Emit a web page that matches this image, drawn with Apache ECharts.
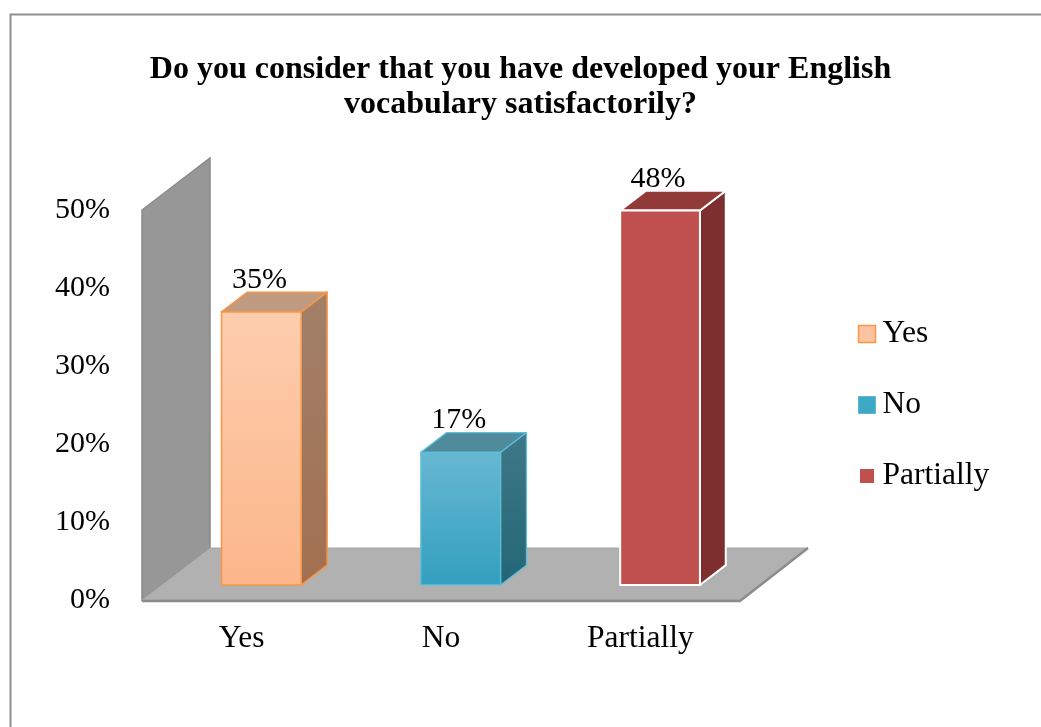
<!DOCTYPE html>
<html>
<head>
<meta charset="utf-8">
<script src="https://cdn.jsdelivr.net/npm/echarts@6/dist/echarts.min.js"></script>
<style>html,body{margin:0;padding:0;background:#fff}#c{width:1041px;height:727px}</style>
</head>
<body>
<div id="c"></div>
<script>
// ---- data ----
const categories = ['Yes', 'No', 'Partially'];
const values = [35, 17, 48];
const yMin = 0, yMax = 50, yInterval = 10;
const titleText = 'Do you consider that you have developed your English\nvocabulary satisfactorily?';

// ---- style ----
const FONT = '"Liberation Serif", "Times New Roman", serif';
const DX = 68, DY = -52;          // 3D depth vector of the floor
const F1 = 0.29, F2 = 0.67;       // bar front/back depth fractions
const barStyles = [
  { front: ['#FDCDAE', '#FBB68A'], top: '#C09A81', side: ['#A2806A', '#A27050'], edge: '#F79646', edgeW: 1.5,
    legend: { color: '#FBC39F', borderColor: '#F79646', borderWidth: 1.5 } },
  { front: ['#67B7D2', '#33A0BF'], top: '#508B9C', side: ['#3F7888', '#236677'], edge: '#5BC0DA', edgeW: 1.2,
    legend: { color: '#3EA8C6', borderColor: '#5BB8D2', borderWidth: 1 } },
  { front: ['#C0504D', '#C0504D'], top: '#923A38', side: ['#7C2F2E', '#7C2F2E'], edge: '#FFFFFF', edgeW: 2,
    legend: { color: '#C0504D', borderColor: '#FFFFFF', borderWidth: 3 } }
];

const chart = echarts.init(document.getElementById('c'), null, { renderer: 'canvas' });

function renderFrame(params, api) {
  const band = api.size([1, 0])[0];
  const p0 = api.coord([0, yMin]);
  const p1 = api.coord([0, yMax]);
  const xl = p0[0] - band / 2;
  const xr = xl + band * categories.length;
  const yb = p0[1], yt = p1[1];
  return {
    type: 'group',
    children: [
      { type: 'polygon', shape: { points: [[xl, yt], [xl + DX, yt + DY], [xl + DX, yb + DY], [xl, yb]] },
        style: { fill: '#979797', stroke: '#8A8A8A', lineWidth: 1.5 } },
      { type: 'polygon', shape: { points: [[xl, yb], [xl + DX, yb + DY], [xr + DX, yb + DY], [xr, yb]] },
        style: { fill: '#B1B1B1', stroke: '#A6A6A6', lineWidth: 1 } },
      { type: 'polyline', shape: { points: [[xl, yb + 1], [xr, yb + 1], [xr + DX, yb + DY]] },
        style: { fill: null, stroke: '#8C8C8C', lineWidth: 2.5 } }
    ]
  };
}

function renderBar(params, api) {
  const idx = api.value(0), v = api.value(1);
  const s = barStyles[idx];
  const base = api.coord([idx, yMin]);
  const top = api.coord([idx, v]);
  const band = api.size([1, 0])[0];
  const hw = band * 0.2;
  const cx = base[0] + F1 * DX;
  const yb = base[1] + F1 * DY, yt = top[1] + F1 * DY;
  const bx = (F2 - F1) * DX, by = (F2 - F1) * DY;
  const xl = cx - hw, xr = cx + hw;
  const grad = (c) => new echarts.graphic.LinearGradient(0, 0, 0, 1, [{ offset: 0, color: c[0] }, { offset: 1, color: c[1] }]);
  return {
    type: 'group',
    children: [
      { type: 'polygon', shape: { points: [[xr, yt], [xr + bx, yt + by], [xr + bx, yb + by], [xr, yb]] },
        style: { fill: grad(s.side), stroke: s.edge, lineWidth: s.edgeW, lineJoin: 'round' } },
      { type: 'polygon', shape: { points: [[xl, yt], [xr, yt], [xr + bx, yt + by], [xl + bx, yt + by]] },
        style: { fill: s.top, stroke: s.edge, lineWidth: s.edgeW, lineJoin: 'round' } },
      { type: 'rect', shape: { x: xl, y: yt, width: xr - xl, height: yb - yt },
        style: { fill: grad(s.front), stroke: s.edge, lineWidth: s.edgeW } },
      { type: 'text', x: cx - 2, y: yt + by - 12,
        style: { text: v + '%', fill: '#000', font: '30px ' + FONT, align: 'center', verticalAlign: 'middle' } }
    ]
  };
}

const series = [{
  type: 'custom', name: 'frame', renderItem: renderFrame, data: [[0, 0]], z: 1, silent: true
}];
categories.forEach((c, i) => {
  series.push({
    type: 'custom', name: c, renderItem: renderBar, data: [[i, values[i]]], z: 3,
    itemStyle: barStyles[i].legend, clip: false
  });
});

chart.setOption({
  animation: false,
  backgroundColor: '#fff',
  graphic: [{
    type: 'rect', left: 8, top: 12, z: 0,
    shape: { width: 1100, height: 800 },
    style: { fill: null, stroke: '#8E8E8E', lineWidth: 2 }
  }],
  title: {
    text: titleText, left: 'center', top: 47,
    textStyle: { fontFamily: FONT, fontSize: 32, fontWeight: 'bold', color: '#000', lineHeight: 35, align: 'center' }
  },
  legend: {
    data: categories.map((c, i) => ({ name: c, itemStyle: barStyles[i].legend })),
    orient: 'vertical', left: 857, top: 318, itemGap: 39, padding: 0,
    icon: 'rect', itemWidth: 17, itemHeight: 17,
    textStyle: { fontFamily: FONT, fontSize: 31.5, color: '#000', lineHeight: 30, padding: [0, 0, 0, 2] },
    selectedMode: false
  },
  grid: { left: 142, right: 301, top: 210, bottom: 127 },
  xAxis: {
    type: 'category', data: categories,
    axisLine: { show: false }, axisTick: { show: false },
    axisLabel: { fontFamily: FONT, fontSize: 31.5, color: '#000', margin: 23 }
  },
  yAxis: {
    type: 'value', min: yMin, max: yMax, interval: yInterval,
    axisLine: { show: false }, axisTick: { show: false }, splitLine: { show: false },
    axisLabel: { fontFamily: FONT, fontSize: 30, color: '#000', margin: 32, formatter: '{value}%' }
  },
  series: series
});
</script>
</body>
</html>
